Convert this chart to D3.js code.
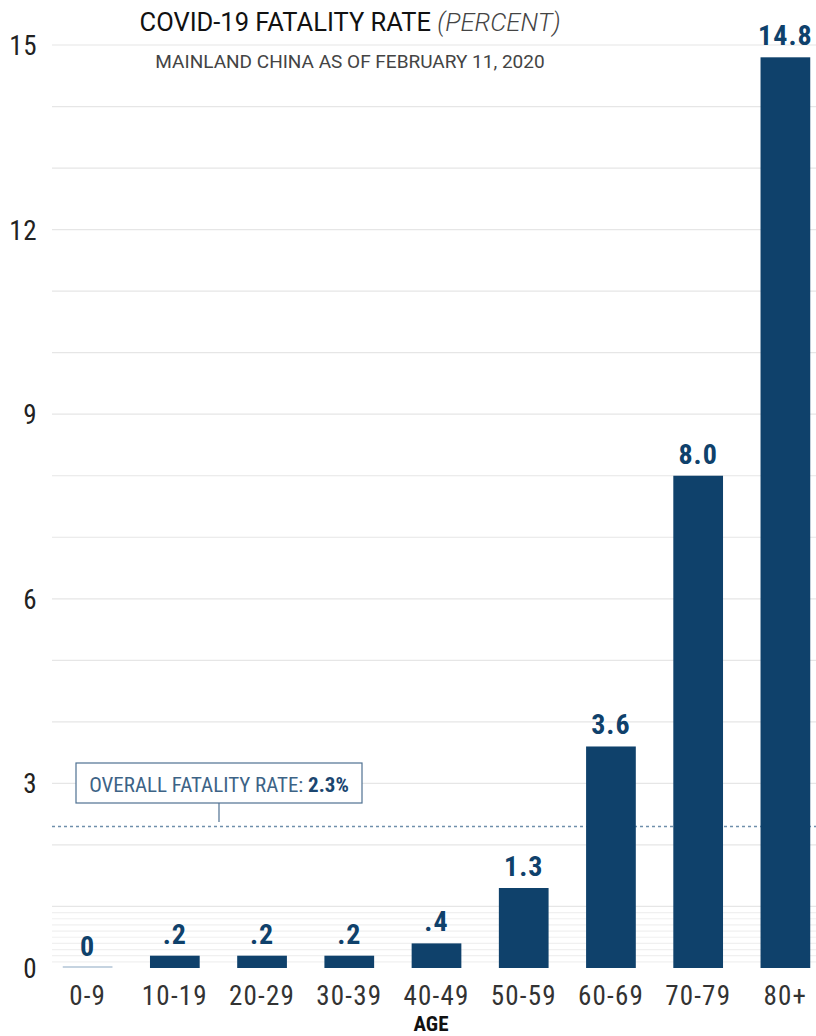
<!DOCTYPE html>
<html>
<head>
<meta charset="utf-8">
<script src="https://cdn.jsdelivr.net/npm/d3@7"></script>
<style>
  body { margin: 0; background: #fff; }
  text { font-family: "Roboto Condensed", "Liberation Sans Narrow", "DejaVu Sans Condensed", sans-serif; }
</style>
</head>
<body>
<svg id="chart"></svg>
<script>
var ageGroups = ["0-9", "10-19", "20-29", "30-39", "40-49", "50-59", "60-69", "70-79", "80+"];
var fatalityRates = [0, 0.2, 0.2, 0.2, 0.4, 1.3, 3.6, 8.0, 14.8];
var rateLabels = ["0", ".2", ".2", ".2", ".4", "1.3", "3.6", "8.0", "14.8"];
var yTicks = [0, 3, 6, 9, 12, 15];
var overallRate = 2.3;

var width = 816, height = 1036;
var condensed = "\"Roboto Condensed\", \"Liberation Sans Narrow\", \"DejaVu Sans Condensed\", sans-serif";
var svg = d3.select("#chart").attr("width", width).attr("height", height);

var x = d3.scaleBand()
          .domain(ageGroups)
          .range([44, 829])
          .paddingInner(0.43)
          .paddingOuter(0.215);

var y = d3.scaleLinear()
          .domain([0, 15])
          .range([968, 45]);

// light gridlines: every 1, plus every 0.1 below 1
var gridVals = d3.range(1, 16).concat(d3.range(1, 10).map(d => d / 10));
svg.append("g")
   .selectAll("line")
   .data(gridVals)
   .enter()
     .append("line")
     .attr("x1", 52)
     .attr("x2", width)
     .attr("y1", d => y(d))
     .attr("y2", d => y(d))
     .attr("stroke", d => d < 1 ? "#f0f0f0" : "#e6e6e6")
     .attr("stroke-width", 1.2);

// y axis labels
var yAxis = d3.axisLeft(y).tickValues(yTicks).tickSize(0).tickPadding(0);
svg.append("g")
   .attr("transform", "translate(37,0)")
   .call(yAxis)
   .call(g => g.select(".domain").remove())
   .selectAll("text")
     .attr("font-size", "27px")
     .attr("fill", "#222")
     .attr("dy", "0.35em")
     .attr("letter-spacing", "0.5px")
     .style("font-family", condensed);

// overall rate dotted line
svg.append("line")
   .attr("x1", 52)
   .attr("x2", width)
   .attr("y1", y(overallRate))
   .attr("y2", y(overallRate))
   .attr("stroke", "#6f8fab")
   .attr("stroke-width", 1.5)
   .attr("stroke-dasharray", "3,3");

// bars
svg.append("g")
   .selectAll(".bar")
   .data(fatalityRates)
   .enter()
     .append("rect")
     .classed("bar", true)
     .attr("x", (d, i) => x(ageGroups[i]))
     .attr("width", x.bandwidth())
     .attr("y", d => d > 0 ? y(d) : y(0) - 2)
     .attr("height", d => d > 0 ? y(0) - y(d) : 2)
     .attr("fill", d => d > 0 ? "#0f416b" : "#c5d3e0");

// value labels
svg.append("g")
   .selectAll("text")
   .data(fatalityRates)
   .enter()
     .append("text")
     .attr("x", (d, i) => x(ageGroups[i]) + x.bandwidth() / 2)
     .attr("y", d => y(d) - 12)
     .attr("text-anchor", "middle")
     .attr("font-size", "28px")
     .attr("font-weight", "bold")
     .attr("letter-spacing", "1px")
     .attr("fill", "#0f416b")
     .text((d, i) => rateLabels[i]);

// x axis labels
var xAxis = d3.axisBottom(x).tickSize(0).tickPadding(0);
svg.append("g")
   .attr("transform", "translate(0,986)")
   .call(xAxis)
   .call(g => g.select(".domain").remove())
   .selectAll("text")
     .attr("font-size", "27px")
     .attr("fill", "#333")
     .attr("dy", "0.71em")
     .attr("letter-spacing", "1.2px")
     .style("font-family", condensed);

svg.append("text")
   .attr("x", 431)
   .attr("y", 1031)
   .attr("text-anchor", "middle")
   .attr("font-size", "21px")
   .attr("font-weight", "bold")
   .attr("fill", "#111")
   .text("AGE");

// annotation box
var note = svg.append("g");
note.append("line")
    .attr("x1", 219).attr("x2", 219)
    .attr("y1", 803).attr("y2", 822)
    .attr("stroke", "#4f7192")
    .attr("stroke-width", 1.2);
note.append("rect")
    .attr("x", 76).attr("y", 763)
    .attr("width", 286).attr("height", 40)
    .attr("fill", "#fff")
    .attr("stroke", "#4f7192")
    .attr("stroke-width", 1.2);
var noteText = note.append("text")
    .attr("x", 219).attr("y", 792)
    .attr("text-anchor", "middle")
    .attr("font-size", "21px")
    .attr("fill", "#3d6386");
noteText.append("tspan").text("OVERALL FATALITY RATE: ");
noteText.append("tspan").attr("font-weight", "bold").attr("fill", "#1b4670").text(overallRate + "%");

// title
var title = svg.append("text")
   .attr("x", 350)
   .attr("y", 31)
   .attr("text-anchor", "middle")
   .attr("font-size", "25.5px")
   .attr("fill", "#111")
   .style("font-family", "Roboto, sans-serif");
title.append("tspan").text("COVID-19 FATALITY RATE ");
title.append("tspan").attr("font-style", "italic").attr("font-weight", 300).attr("fill", "#444").text("(PERCENT)");

svg.append("text")
   .attr("x", 350)
   .attr("y", 68)
   .attr("text-anchor", "middle")
   .attr("font-size", "19px")
   .attr("fill", "#444")
   .style("font-family", "Roboto, sans-serif")
   .text("MAINLAND CHINA AS OF FEBRUARY 11, 2020");
</script>
</body>
</html>
